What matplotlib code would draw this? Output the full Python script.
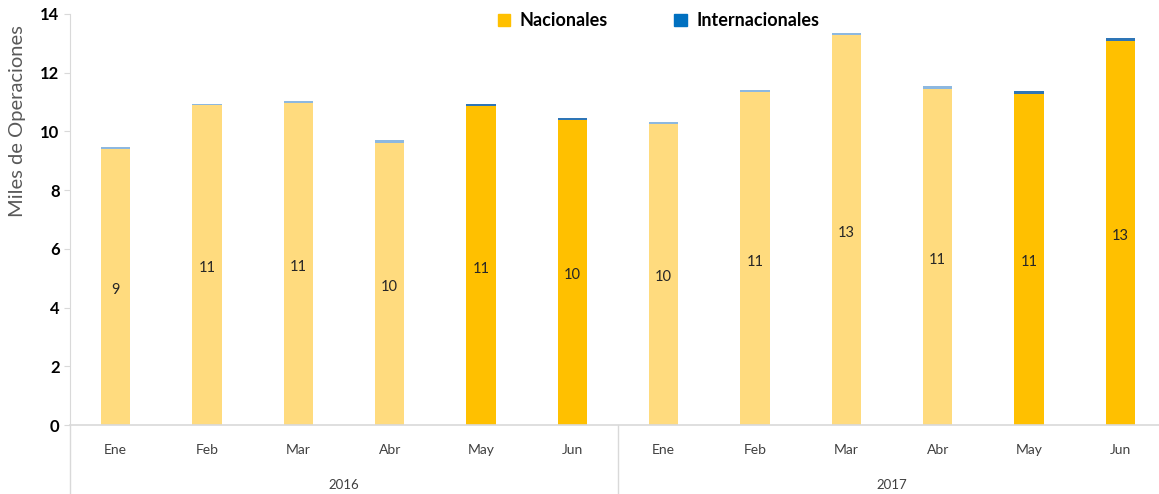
import numpy as np
import matplotlib.pyplot as plt
from matplotlib.patches import Patch
import matplotlib.transforms as mtransforms

# ── Datos ────────────────────────────────────────────────────────────────────
meses = ["Ene", "Feb", "Mar", "Abr", "May", "Jun",
         "Ene", "Feb", "Mar", "Abr", "May", "Jun"]
anios = ["2016", "2017"]
nacionales = [9.40, 10.89, 10.97, 9.61, 10.86, 10.40,
              10.25, 11.33, 13.28, 11.45, 11.28, 13.09]
internacionales = [0.07, 0.05, 0.06, 0.10, 0.06, 0.05,
                   0.07, 0.08, 0.07, 0.10, 0.10, 0.09]
etiquetas = [9, 11, 11, 10, 11, 10, 10, 11, 13, 11, 11, 13]
resaltado = [False, False, False, False, True, True,
             False, False, False, False, True, True]

# ── Colores ──────────────────────────────────────────────────────────────────
NAC_CLARO, NAC_OSC = "#FFDB7E", "#FFC000"
INT_CLARO, INT_OSC = "#8DB8E0", "#2E75B6"
GRIS = "#D9D9D9"

plt.rcParams["font.family"] = ["Lato", "DejaVu Sans"]

fig = plt.figure(figsize=(11.59, 4.94), dpi=100)
ax = fig.add_axes([70 / 1159, 69 / 494, 1096 / 1159, 411 / 494])

x = np.arange(len(meses))
col_nac = [NAC_OSC if r else NAC_CLARO for r in resaltado]
col_int = [INT_OSC if r else INT_CLARO for r in resaltado]
ax.bar(x, nacionales, width=0.32, color=col_nac, zorder=2)
ax.bar(x, internacionales, width=0.32, bottom=nacionales, color=col_int, zorder=2)

for xi, n, lab in zip(x, nacionales, etiquetas):
    ax.text(xi, n / 2 - 0.1, str(lab), ha="center", va="center",
            fontsize=10.5, color="#262626")

ax.set_xlim(-0.5, 11.5)
ax.set_ylim(0, 14)
ax.set_yticks(range(0, 15, 2))
ax.tick_params(axis="y", labelsize=12, length=4, color=GRIS, width=0.8)
for t in ax.get_yticklabels():
    t.set_fontweight("bold")
ax.set_xticks(x)
ax.set_xticklabels(meses, fontsize=10, color="#404040")
ax.tick_params(axis="x", length=0, pad=14)
ax.set_ylabel("Miles de Operaciones", fontsize=14.5, color="#595959")
ax.yaxis.set_label_coords(-0.04, 0.74)

for s in ["top", "right"]:
    ax.spines[s].set_visible(False)
ax.spines["left"].set_color(GRIS)
ax.spines["bottom"].set_color(GRIS)
ax.spines["bottom"].set_linewidth(1.2)

# Ejes de categorías agrupadas (años)
trans = mtransforms.blended_transform_factory(ax.transData, ax.transAxes)
for xs in [-0.5, 5.5]:
    ax.plot([xs, xs], [0, -0.17], transform=trans, color=GRIS, lw=1, clip_on=False)
for xc, anio in zip([2.5, 8.5], anios):
    ax.text(xc, -0.145, anio, transform=trans, ha="center", va="center",
            fontsize=9.5, color="#404040")

handles = [Patch(color=NAC_OSC, label="Nacionales"),
           Patch(color="#0070C0", label="Internacionales")]
fig.legend(handles=handles, loc="center", bbox_to_anchor=(0.568, 0.958),
           ncol=2, frameon=False, handlelength=0.7,
           handleheight=0.7, columnspacing=3.7, handletextpad=0.5,
           prop={"weight": "bold", "size": 13})

plt.savefig("out.png", dpi=100, facecolor="white")
